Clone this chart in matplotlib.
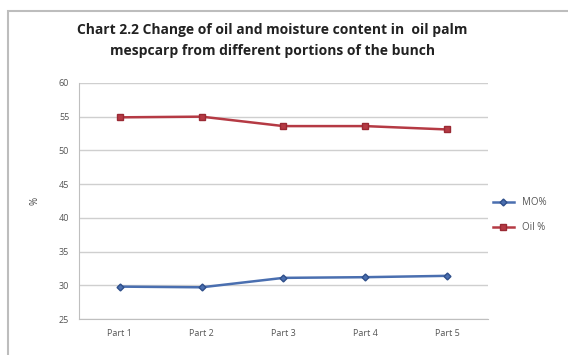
import matplotlib
matplotlib.use('Agg')
import matplotlib.pyplot as plt
from matplotlib.patches import Rectangle

parts = ['Part 1', 'Part 2', 'Part 3', 'Part 4', 'Part 5']
mo = [29.8, 29.7, 31.1, 31.2, 31.4]
oil = [54.9, 55.0, 53.6, 53.6, 53.1]
yticks = [25, 30, 35, 40, 45, 50, 55, 60]

plt.rcParams['font.family'] = ['Open Sans', 'DejaVu Sans']

fig = plt.figure(figsize=(5.68, 3.55), dpi=100)
fig.patches.append(Rectangle((8 / 568, -0.02), 1.0, 1 - 11 / 355 + 0.02,
                             transform=fig.transFigure, fill=False,
                             edgecolor='#bdbdbd', linewidth=1.5))

ax = fig.add_axes([0.139, 0.1014, 0.72, 0.665])
x = range(len(parts))
ax.plot(x, mo, color='#4a6fb0', marker='D', markersize=3.5, linewidth=1.8,
        markeredgecolor='#2f4f8a', label='MO%')
ax.plot(x, oil, color='#b53a44', marker='s', markersize=5, linewidth=1.8,
        markeredgecolor='#9a2a34', label='Oil %')

ax.set_xlim(-0.5, len(parts) - 0.5)
ax.set_ylim(25, 60)
ax.set_yticks(yticks)
ax.set_xticks(list(x))
ax.set_xticklabels(parts)
ax.tick_params(labelsize=6.5, colors='#555555', length=0, pad=7)
ax.yaxis.grid(True, color='#cfcfcf', linewidth=1)
ax.set_axisbelow(True)
for s in ['top', 'right']:
    ax.spines[s].set_visible(False)
for s in ['left', 'bottom']:
    ax.spines[s].set_color('#bfbfbf')
ax.set_ylabel('%', fontsize=7, color='#444444', labelpad=13)

ax.legend(loc='center left', bbox_to_anchor=(0.99, 0.44), frameon=False,
          fontsize=7, handlelength=2.2, labelspacing=1.4,
          labelcolor='#555555')

fig.suptitle('Chart 2.2 Change of oil and moisture content in  oil palm\n'
             'mespcarp from different portions of the bunch',
             x=0.48, y=0.935, fontsize=10, fontweight='bold', color='#222222',
             linespacing=1.6)

fig.savefig('out.png', dpi=100)
